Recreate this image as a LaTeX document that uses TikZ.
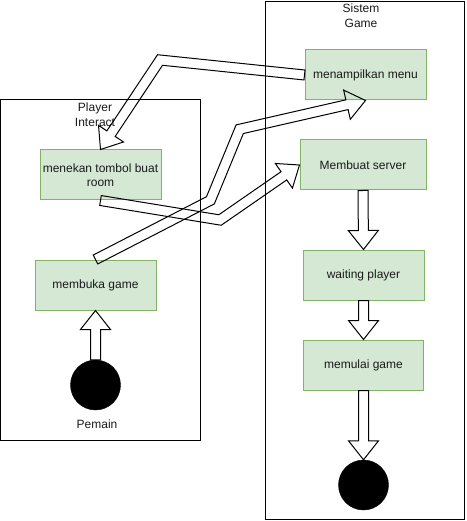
\documentclass[tikz,border=0pt]{standalone}
\usepackage{fontspec}
\setmainfont{Liberation Sans}
\usetikzlibrary{calc}

\definecolor{boxfill}{HTML}{D5E8D4}
\definecolor{boxline}{HTML}{82B366}
\definecolor{ink}{HTML}{1A1A1A}

% geometry of the hollow block arrows
\def\fxw{5pt}   % half shaft width
\def\fxh{15pt}  % half head width
\def\fxL{19pt}  % head length

% head of a block arrow arriving at #2 from #1
\newcommand\fxhead[2]{%
  \coordinate (fxB)  at ($(#2)!\fxL!(#1)$);
  \coordinate (fxBl) at ($(fxB)!\fxw!90:(#2)$);
  \coordinate (fxBr) at ($(fxB)!\fxw!-90:(#2)$);
  \coordinate (fxHl) at ($(fxB)!\fxh!90:(#2)$);
  \coordinate (fxHr) at ($(fxB)!\fxh!-90:(#2)$);
}
% mitred outline corner at #2 between #1->#2 and #2->#3, stored as #4l / #4r
\newcommand\fxcorner[4]{%
  \coordinate (fxa1) at ($(#1)!\fxw!90:(#2)$);
  \coordinate (fxa2) at ($(#2)!\fxw!-90:(#1)$);
  \coordinate (fxb1) at ($(#2)!\fxw!90:(#3)$);
  \coordinate (fxb2) at ($(#3)!\fxw!-90:(#2)$);
  \coordinate (#4l) at (intersection of fxa1--fxa2 and fxb1--fxb2);
  \coordinate (fxa1) at ($(#1)!\fxw!-90:(#2)$);
  \coordinate (fxa2) at ($(#2)!\fxw!90:(#1)$);
  \coordinate (fxb1) at ($(#2)!\fxw!-90:(#3)$);
  \coordinate (fxb2) at ($(#3)!\fxw!90:(#2)$);
  \coordinate (#4r) at (intersection of fxa1--fxa2 and fxb1--fxb2);
}
% straight block arrow
\newcommand\fxarrow[2]{%
  \coordinate (fxS) at (#1);
  \coordinate (fxT) at (#2);
  \fxhead{fxS}{fxT}
  \draw[flex] ($(fxS)!\fxw!90:(fxT)$) -- (fxBl) -- (fxHl) -- (fxT)
    -- (fxHr) -- (fxBr) -- ($(fxS)!\fxw!-90:(fxT)$) -- cycle;
}
% block arrow with one bend
\newcommand\fxarrowi[3]{%
  \coordinate (fxS) at (#1);
  \coordinate (fxT) at (#3);
  \fxcorner{fxS}{#2}{fxT}{fxk}
  \fxhead{#2}{fxT}
  \draw[flex] ($(fxS)!\fxw!90:(#2)$) -- (fxkl) -- (fxBl) -- (fxHl) -- (fxT)
    -- (fxHr) -- (fxBr) -- (fxkr) -- ($(fxS)!\fxw!-90:(#2)$) -- cycle;
}
% block arrow with two bends
\newcommand\fxarrowii[4]{%
  \coordinate (fxS) at (#1);
  \coordinate (fxT) at (#4);
  \fxcorner{fxS}{#2}{#3}{fxk}
  \fxcorner{#2}{#3}{fxT}{fxm}
  \fxhead{#3}{fxT}
  \draw[flex] ($(fxS)!\fxw!90:(#2)$) -- (fxkl) -- (fxml) -- (fxBl) -- (fxHl) -- (fxT)
    -- (fxHr) -- (fxBr) -- (fxmr) -- (fxkr) -- ($(fxS)!\fxw!-90:(#2)$) -- cycle;
}

\tikzset{
  lane/.style={draw=black, line width=1pt},
  stepbox/.style={draw=boxline, fill=boxfill, line width=1pt, minimum width=121pt,
    minimum height=50pt, inner sep=0pt, align=center, text=ink,
    font=\fontsize{12}{14}\selectfont},
  label/.style={inner sep=0pt, align=center, text=ink, font=\fontsize{12}{15}\selectfont},
  dot/.style={circle, fill=black, draw=black, minimum size=50pt, inner sep=0pt},
  flex/.style={draw=black, line width=1pt, line join=miter},
}

\begin{document}
\begin{tikzpicture}[x=1pt, y=-1pt]
  \useasboundingbox (0,0) rectangle (466,521);

  % swimlanes
  \draw[lane] (0.5,100) rectangle (200.5,440);
  \draw[lane] (265,2) rectangle (464,519);
  \node[label] (lanePlayer) at (95,114.5) {Player\\Interact};
  \node[label] (laneSystem) at (361,15.5) {Sistem\\Game};

  % player actions
  \node[stepbox] (tombol) at (100.5,175) {menekan tombol buat\\room};
  \node[stepbox] (buka)   at (95.5,285)  {membuka game};
  \node[dot]     (start)  at (95.5,385)  {};
  \node[label]   (pemain) at (97,424)    {Pemain};

  % system actions
  \node[stepbox] (menu)    at (365.5,75)  {menampilkan menu};
  \node[stepbox, minimum width=126pt] (server) at (363,165) {Membuat server};
  \node[stepbox] (waiting) at (363.5,275) {waiting player};
  \node[stepbox, minimum width=120pt] (mulai) at (363.5,365) {memulai game};
  \node[dot]     (stop)    at (363.5,485) {};

  % bend points of the crossing flows
  \coordinate (k1) at (160,60);
  \coordinate (k2) at (210.4,200.3);
  \coordinate (k3) at (239.7,129.2);
  \coordinate (k4) at (220,220);

  % flows
  \fxarrow{start.north}{buka.south}
  \fxarrow{server.south}{waiting.north}
  \fxarrow{waiting.south}{mulai.north}
  \fxarrow{mulai.south}{stop.north}
  \fxarrowi{menu.west}{k1}{tombol.north}
  \fxarrowii{buka.north}{k2}{k3}{menu.south}
  \fxarrowi{tombol.south}{k4}{server.west}
\end{tikzpicture}
\end{document}
